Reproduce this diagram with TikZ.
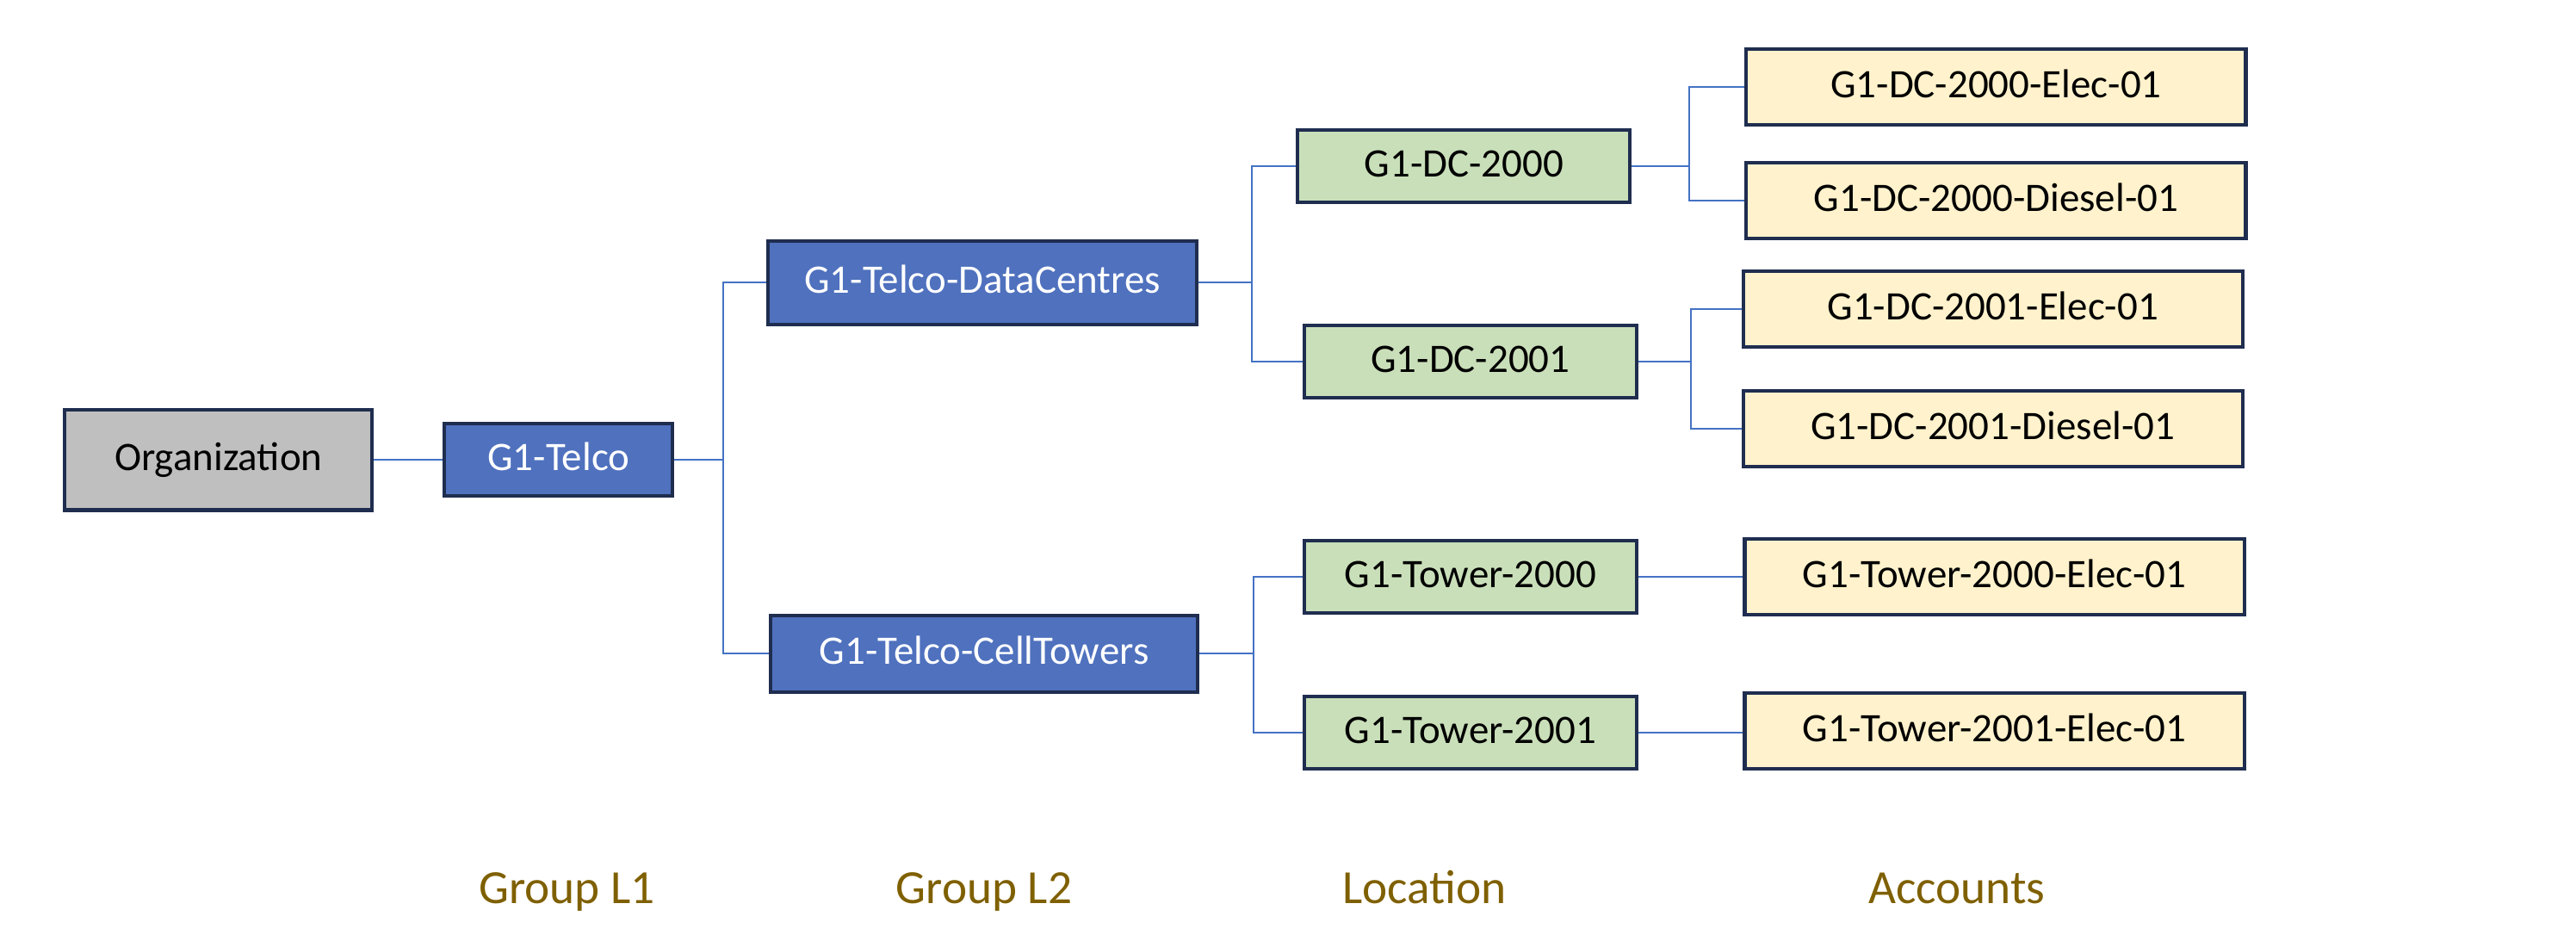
\documentclass[tikz,border=0pt]{standalone}
\usepackage{fontspec}
\setmainfont{Carlito}
\usepackage{tikz}
\usetikzlibrary{positioning, calc}
\definecolor{orgGray}{HTML}{BFBFBF}
\definecolor{grpBlue}{HTML}{4F71BE}
\definecolor{locGreen}{HTML}{C9DFB9}
\definecolor{accYellow}{HTML}{FFF2CC}
\definecolor{boxEdge}{HTML}{1F2D4F}
\definecolor{linkBlue}{HTML}{4472C4}
\definecolor{levelText}{HTML}{7F6000}
\tikzstyle{link} = [linkBlue, line width=0.6pt]
\tikzset{
base/.style={draw=boxEdge, line width=1.2pt, inner sep=0pt, align=center, text height=0.8em, text depth=0.06em, font=\fontsize{14}{16}\selectfont},
orgbox/.style={base, fill=orgGray, minimum width=3.74cm, minimum height=1.22cm},
grpbox/.style={base, fill=grpBlue, text=white, minimum height=0.9cm},
locbox/.style={base, fill=locGreen, minimum width=4.04cm, minimum height=0.88cm},
accbox/.style={base, fill=accYellow, minimum width=6.08cm, minimum height=0.92cm},
levelname/.style={text=levelText, inner sep=0pt, text height=0.85em, text depth=0.03em, font=\fontsize{16.5}{18}\selectfont}
}

\begin{document}
\begin{tikzpicture}
\useasboundingbox (0,0) rectangle (31.36,-11.52);
%----------------------------------------------------------------------------
% Placement of hierarchy nodes
\node (org) [orgbox] at (2.66,-5.6) {Organization};
\node (telco) [grpbox, minimum width=2.78cm, minimum height=0.88cm] at (6.8,-5.6) {G1-Telco};
\node (dataC) [grpbox, minimum width=5.22cm, minimum height=1.02cm] at (11.96,-3.44) {G1-Telco-DataCentres};
\node (cellT) [grpbox, minimum width=5.2cm, minimum height=0.94cm] at (11.98,-7.96) {G1-Telco-CellTowers};

\node (dc2000) [locbox] at (17.82,-2.02) {G1-DC-2000};
\node (dc2001) [locbox] at (17.9,-4.4) {G1-DC-2001};
\node (tw2000) [locbox] at (17.9,-7.02) {G1-Tower-2000};
\node (tw2001) [locbox] at (17.9,-8.92) {G1-Tower-2001};

\node (acc1) [accbox] at (24.3,-1.06) {G1-DC-2000-Elec-01};
\node (acc2) [accbox] at (24.3,-2.44) {G1-DC-2000-Diesel-01};
\node (acc3) [accbox] at (24.26,-3.76) {G1-DC-2001-Elec-01};
\node (acc4) [accbox] at (24.26,-5.22) {G1-DC-2001-Diesel-01};
\node (acc5) [accbox] at (24.28,-7.02) {G1-Tower-2000-Elec-01};
\node (acc6) [accbox] at (24.28,-8.9) {G1-Tower-2001-Elec-01};

%----------------------------------------------------------------------------
% Lines
\coordinate (busA) at (8.8,0);
\coordinate (busB) at (15.24,0);
\coordinate (busC) at (15.26,0);
\coordinate (busD) at (20.56,0);
\coordinate (busE) at (20.58,0);

\draw [link] (org.east) -- (telco.west);
\draw [link] (telco.east) -- (telco.east -| busA) |- (dataC.west);
\draw [link] (telco.east -| busA) |- (cellT.west);
\draw [link] (dataC.east) -- (dataC.east -| busB) |- (dc2000.west);
\draw [link] (dataC.east -| busB) |- (dc2001.west);
\draw [link] (cellT.east) -- (cellT.east -| busC) |- (tw2000.west);
\draw [link] (cellT.east -| busC) |- (tw2001.west);
\draw [link] (dc2000.east) -- (dc2000.east -| busD) |- (acc1.west);
\draw [link] (dc2000.east -| busD) |- (acc2.west);
\draw [link] (dc2001.east) -- (dc2001.east -| busE) |- (acc3.west);
\draw [link] (dc2001.east -| busE) |- (acc4.west);
\draw [link] (tw2000.east) -- (acc5.west);
\draw [link] (tw2001.east) -- (tw2001.east -| acc6.west);

%----------------------------------------------------------------------------
% Notes
\node (lvlA) [levelname] at (6.9,-10.86) {Group L1};
\node (lvlB) [levelname] at (11.98,-10.86) {Group L2};
\node (lvlC) [levelname] at (17.34,-10.86) {Location};
\node (lvlD) [levelname] at (23.82,-10.86) {Accounts};

\end{tikzpicture}
\end{document}
